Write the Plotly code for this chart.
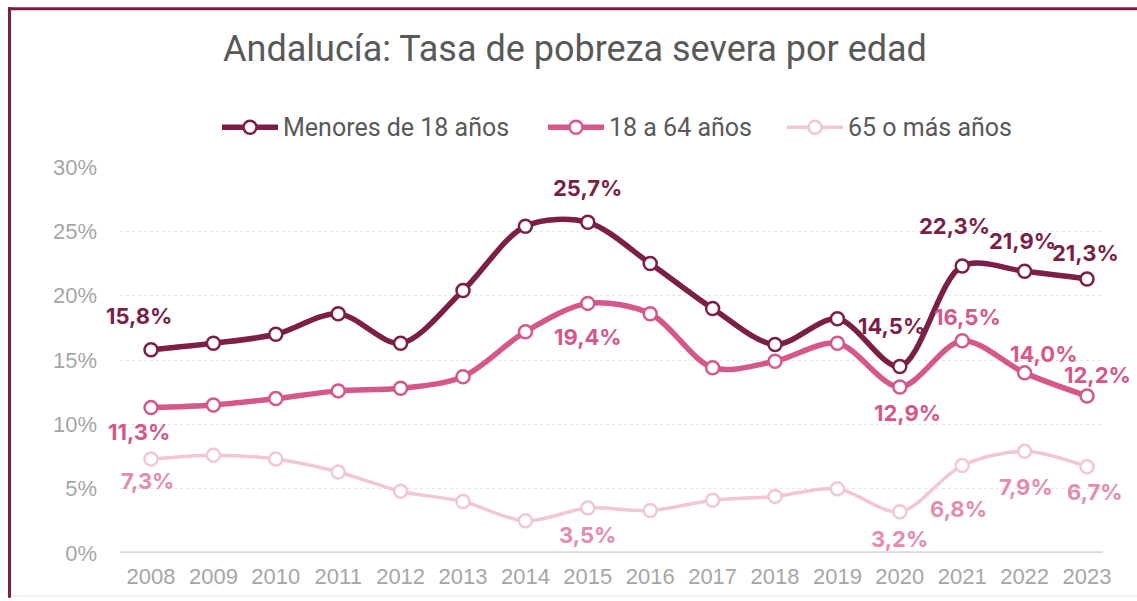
import plotly.graph_objects as go

years = list(range(2008, 2024))
menores = [15.8, 16.3, 17.0, 18.6, 16.3, 20.4, 25.4, 25.7, 22.5, 19.0, 16.2, 18.2, 14.5, 22.3, 21.9, 21.3]
adultos = [11.3, 11.5, 12.0, 12.6, 12.8, 13.7, 17.2, 19.4, 18.6, 14.4, 14.9, 16.3, 12.9, 16.5, 14.0, 12.2]
mayores = [7.3, 7.6, 7.3, 6.3, 4.8, 4.0, 2.5, 3.5, 3.3, 4.1, 4.4, 5.0, 3.2, 6.8, 7.9, 6.7]
names = ["Menores de 18 años", "18 a 64 años", "65 o más años"]
ytick_vals = [0, 5, 10, 15, 20, 25, 30]
ytick_text = ["0%", "5%", "10%", "15%", "20%", "25%", "30%"]

# years that carry a data label, per series
lab_menores = [2008, 2015, 2020, 2021, 2022, 2023]
lab_adultos = [2008, 2015, 2020, 2021, 2022, 2023]
lab_mayores = [2008, 2015, 2020, 2021, 2022, 2023]

C_DARK = "#7B1F47"
C_MID = "#D4588B"
C_LIGHT = "#F2C6D8"
C_LIGHT_LAB = "#E38BB1"

series = [
    (names[0], menores, C_DARK, 5.5, C_DARK, lab_menores,
     {2008: (-12, 34), 2015: (0, 34), 2020: (-8, 40), 2021: (-8, 40), 2022: (-2, 30), 2023: (-2, 26)}),
    (names[1], adultos, C_MID, 5.5, C_MID, lab_adultos,
     {2008: (-12, -24), 2015: (0, -34), 2020: (8, -26), 2021: (5, 24), 2022: (19, 19), 2023: (10, 21)}),
    (names[2], mayores, C_LIGHT, 3.5, C_LIGHT_LAB, lab_mayores,
     {2008: (-4, -22), 2015: (0, -27), 2020: (0, -27), 2021: (-4, -43), 2022: (1, -36), 2023: (8, -25)}),
]

L, R, T, B = 120, 34, 167, 45
W, H = 1137, 601
pw = W - L - R
ph = H - T - B

def px(x):
    return (x - L) / pw

def py(y):
    return (H - B - y) / ph

LABEL_FONT = "Inter, Roboto, sans-serif"
TEXT_FONT = "Roboto, sans-serif"

fig = go.Figure()
annotations = []
shapes = [
    dict(type="line", xref="paper", yref="y", x0=0, x1=1, y0=0, y1=0,
         line=dict(color="#D9D9D9", width=3.5), layer="above"),
]
# manual legend geometry (pixel positions of each legend entry)
legend_x = [222, 548, 787]
legend_y = 127
for i, (name, vals, col, lw, labcol, labyears, shifts) in enumerate(series):
    fig.add_trace(go.Scatter(
        x=years, y=vals, name=name, mode="lines+markers",
        line=dict(color=col, width=lw, shape="spline", smoothing=0.9),
        marker=dict(symbol="circle", size=13, color="white", line=dict(color=col, width=2.5)),
        hoverinfo="x+y", showlegend=False,
    ))
    for yr in labyears:
        v = vals[years.index(yr)]
        dx, dy = shifts[yr]
        annotations.append(dict(
            x=yr, y=v, xref="x", yref="y", text=f"{v:.1f}%".replace(".", ","),
            showarrow=False, xshift=dx, yshift=dy,
            font=dict(family=LABEL_FONT, size=22, color=labcol, weight="bold"),
        ))
    # legend entry
    lx = legend_x[i]
    shapes.append(dict(type="line", xref="paper", yref="paper", x0=px(lx), x1=px(lx + 56),
                       y0=py(legend_y), y1=py(legend_y), line=dict(color=col, width=lw)))
    shapes.append(dict(type="circle", xref="paper", yref="paper", xsizemode="pixel", ysizemode="pixel",
                       xanchor=px(lx + 28), yanchor=py(legend_y), x0=-6.5, x1=6.5, y0=-6.5, y1=6.5,
                       fillcolor="white", line=dict(color=col, width=2.5)))
    annotations.append(dict(x=px(lx + 59), y=py(legend_y), xref="paper", yref="paper", text=name,
                            showarrow=False, xanchor="left", yanchor="middle",
                            font=dict(family=TEXT_FONT, size=25, color="#595959")))

shapes += [
    dict(type="line", xref="paper", yref="paper", x0=px(9.5), x1=px(9.5), y0=py(6), y1=py(601),
         line=dict(color=C_DARK, width=3)),
    dict(type="line", xref="paper", yref="paper", x0=px(8), x1=px(1137), y0=py(7.5), y1=py(7.5),
         line=dict(color=C_DARK, width=3)),
    dict(type="line", xref="paper", yref="paper", x0=px(11), x1=px(1137), y0=py(599.5), y1=py(599.5),
         line=dict(color="#EBEBEB", width=1)),
]

fig.update_layout(
    width=W, height=H,
    margin=dict(l=L, r=R, t=T, b=B),
    paper_bgcolor="white", plot_bgcolor="white",
    title=dict(text="Andalucía: Tasa de pobreza severa por edad", x=575 / W, xref="container",
               xanchor="center", y=1 - 48 / H, yanchor="middle",
               font=dict(family=TEXT_FONT, size=36, color="#595959")),
    xaxis=dict(range=[2007.503, 2023.256], tickmode="array", tickvals=years,
               ticktext=[str(y) for y in years], showgrid=False, zeroline=False, showline=False,
               ticks="", ticklabelstandoff=8,
               tickfont=dict(family="Liberation Sans, Arial, sans-serif", size=22, color="#A6A6A6")),
    yaxis=dict(range=[0, 30], tickmode="array", tickvals=ytick_vals, ticktext=ytick_text,
               showgrid=True, gridcolor="#E6E6E6", griddash="dot", gridwidth=1,
               zeroline=False, showline=False, ticks="", ticklabelstandoff=22,
               tickfont=dict(family="Liberation Sans, Arial, sans-serif", size=22, color="#A6A6A6")),
    annotations=annotations,
    shapes=shapes,
    showlegend=False,
)

fig.write_html("out.html", config={"displayModeBar": False},
               post_script="document.body.style.margin='0';")
